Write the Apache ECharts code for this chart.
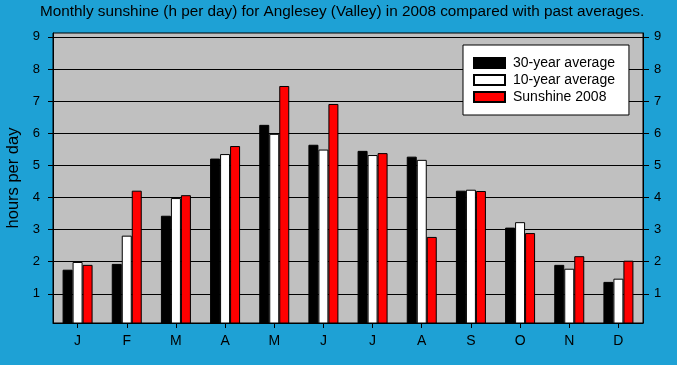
<!DOCTYPE html>
<html>
<head>
<meta charset="utf-8">
<script src="https://cdn.jsdelivr.net/npm/echarts@6/dist/echarts.min.js"></script>
<style>
html,body{margin:0;padding:0;background:#1ea1d5;}
#chart{width:677px;height:365px;}
</style>
</head>
<body>
<div id="chart"></div>
<script>
const months = ['J','F','M','A','M','J','J','A','S','O','N','D'];
const avg30 = [1.75,1.93,3.43,5.21,6.26,5.64,5.45,5.27,4.21,3.06,1.90,1.37];
const avg10 = [1.99,2.81,3.98,5.35,5.98,5.49,5.32,5.17,4.24,3.23,1.78,1.47];
const sun2008 = [1.90,4.21,4.07,5.60,7.47,6.91,5.38,2.77,4.20,2.89,2.17,2.03];
const yTicks = [1,2,3,4,5,6,7,8,9];
const seriesNames = ['30-year average','10-year average','Sunshine 2008'];
const seriesColors = ['#000000','#ffffff','#ff0000'];

const FONT = 'Liberation Sans, Arial, sans-serif';
const chart = echarts.init(document.getElementById('chart'));
const yMin = 0.09, yMax = 9.12;

function yAxisCfg(pos, margin, tickLen) {
  return {
    type: 'value', position: pos, min: yMin, max: yMax,
    axisLine: {show: true, lineStyle: {color: '#000', width: 1}},
    axisTick: {show: true, inside: false, length: tickLen, customValues: yTicks, lineStyle: {color: '#000'}},
    axisLabel: {show: true, customValues: yTicks, margin: margin, color: '#000', fontSize: 13, fontFamily: FONT},
    splitLine: {show: pos === 'left', lineStyle: {color: '#000', width: 1}}
  };
}

const left = yAxisCfg('left', 13, 5);
left.name = 'hours per day';
left.nameLocation = 'middle';
left.nameGap = 31;
left.nameTextStyle = {color: '#000', fontSize: 16.5, fontFamily: FONT};

chart.setOption({
  backgroundColor: '#1ea1d5',
  animation: false,
  title: {
    text: 'Monthly sunshine (h per day) for Anglesey (Valley) in 2008 compared with past averages.',
    left: 40, top: 4, padding: 0,
    textStyle: {color: '#000', fontSize: 15.3, fontWeight: 'normal', fontFamily: FONT}
  },
  legend: {
    orient: 'vertical', left: 463, top: 45,
    backgroundColor: '#fff', borderColor: '#000', borderWidth: 1,
    padding: [11, 14, 11, 10],
    itemWidth: 31, itemHeight: 10, itemGap: 3,
    icon: 'rect',
    textStyle: {color: '#000', fontSize: 14, fontFamily: FONT, lineHeight: 14, padding: [0,0,0,3]},
    data: seriesNames
  },
  grid: {
    left: 53, right: 34, top: 33, bottom: 42,
    outerBoundsMode: 'none', containLabel: false,
    show: true, backgroundColor: '#c0c0c0', borderColor: '#000', borderWidth: 1
  },
  xAxis: {
    type: 'category', data: months,
    axisLine: {show: true, lineStyle: {color: '#000'}},
    axisTick: {show: true, alignWithLabel: true, length: 5, lineStyle: {color: '#000'}},
    axisLabel: {color: '#000', fontSize: 14, fontFamily: FONT, margin: 11}
  },
  yAxis: [left, yAxisCfg('right', 11, 6)],
  series: [avg30, avg10, sun2008].map((d, i) => ({
    name: seriesNames[i], type: 'bar', data: d,
    barWidth: 10, barGap: '0%',
    itemStyle: {color: seriesColors[i], borderColor: '#000', borderWidth: 1}
  }))
});
</script>
</body>
</html>
